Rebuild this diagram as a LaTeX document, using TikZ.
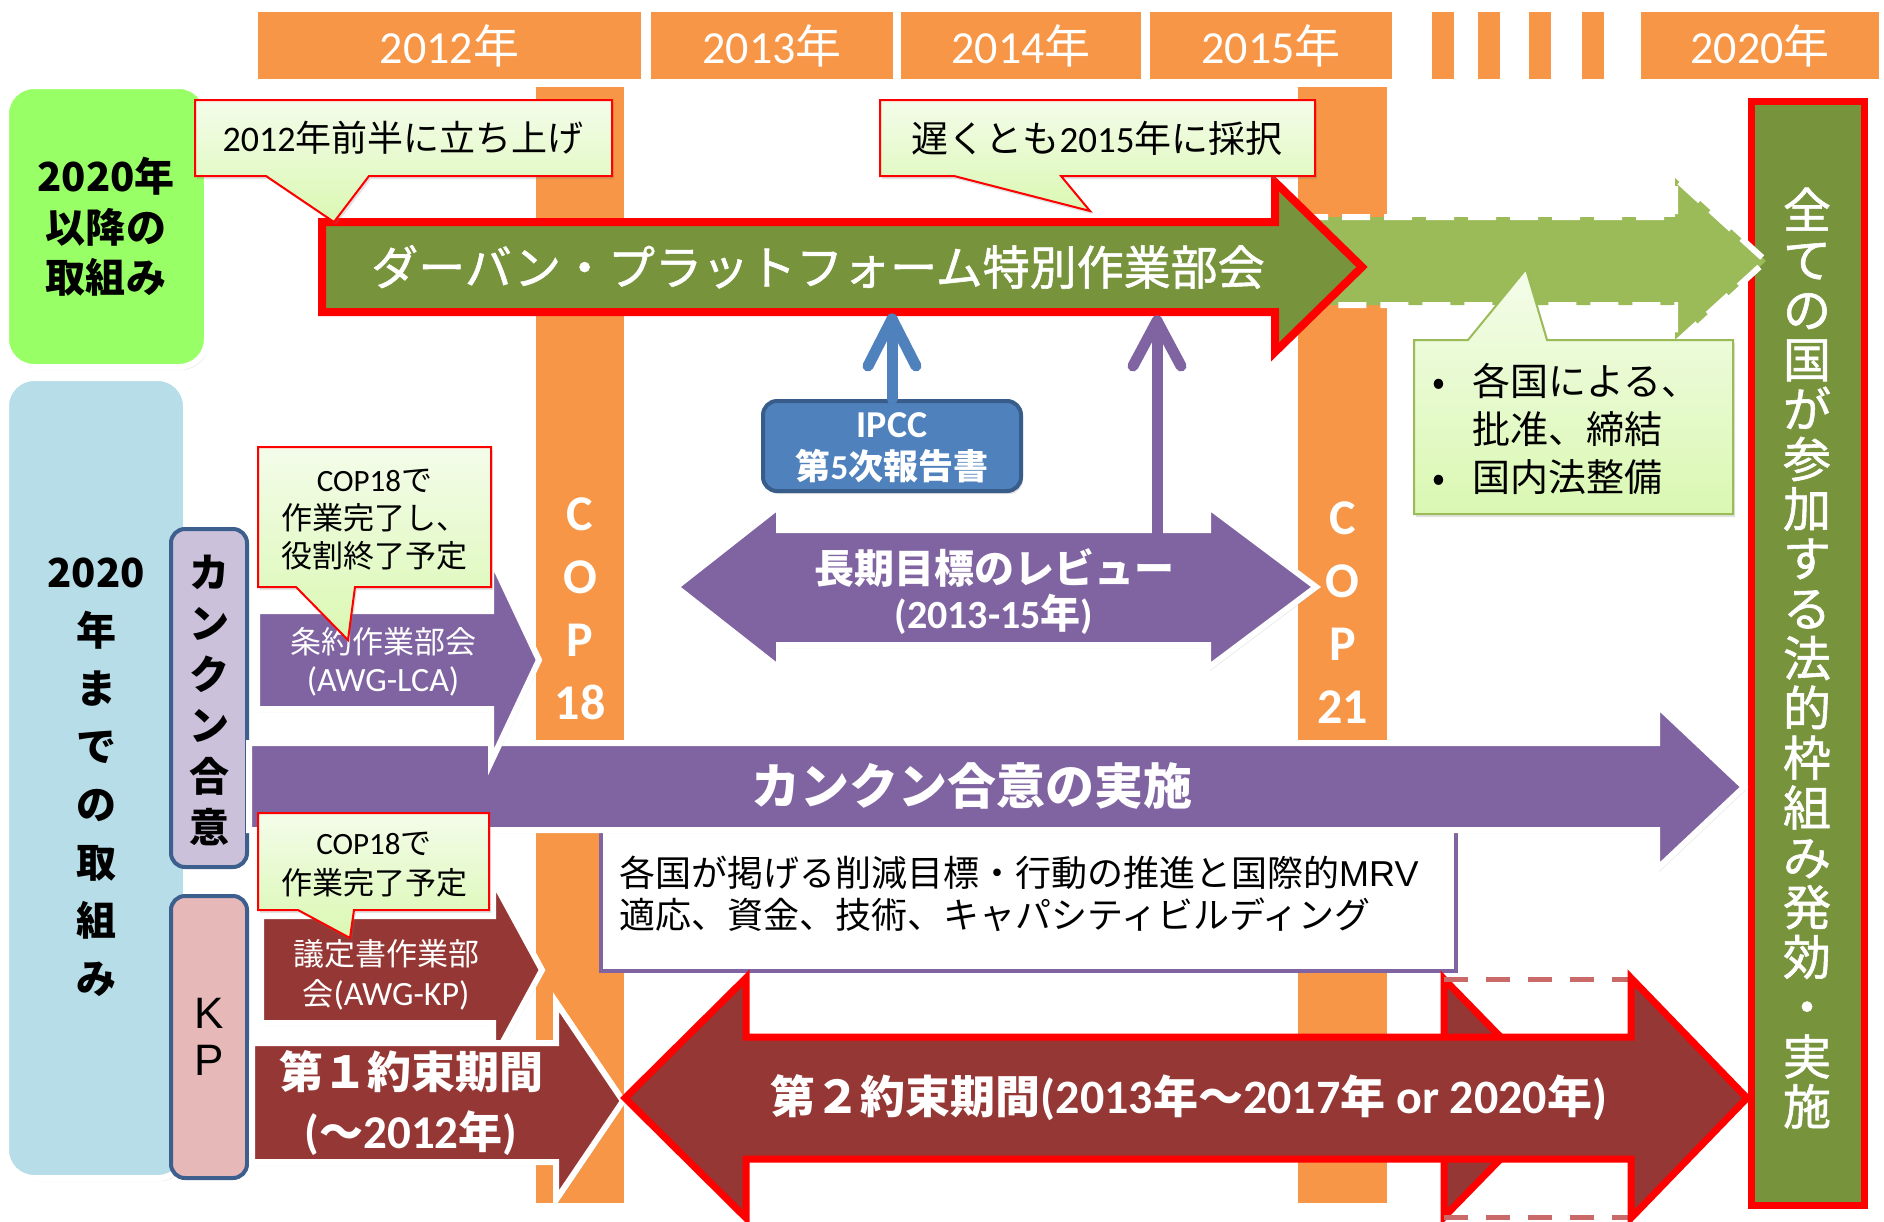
\documentclass[tikz,border=0pt]{standalone}
\usepackage{fontspec}
\setmainfont{Noto Sans CJK JP}
\newfontfamily\jpmed{Noto Sans CJK JP}[FakeBold=1.2]
\newfontfamily\carl{Carlito}
\newfontfamily\arl{Liberation Sans}
\usetikzlibrary{shadows}
\definecolor{org}{HTML}{F79646}
\definecolor{oliveg}{HTML}{77933C}
\definecolor{lgreen}{HTML}{9BBB59}
\definecolor{lime}{HTML}{99FF66}
\definecolor{lblue}{HTML}{B7DEE8}
\definecolor{lav}{HTML}{CCC1DA}
\definecolor{pinkb}{HTML}{E6B9B8}
\definecolor{dblue}{HTML}{3C5F8D}
\definecolor{purp}{HTML}{8064A2}
\definecolor{dred}{HTML}{953735}
\definecolor{ipccb}{HTML}{4F81BD}
\definecolor{ipccd}{HTML}{385D8A}
\definecolor{calltop}{HTML}{F4FCEA}
\definecolor{callbot}{HTML}{DAF8B2}
\definecolor{dashc}{HTML}{C0504D}
\newcommand\fsz[2]{\fontsize{#1pt}{#2pt}\selectfont}
\begin{document}
\begin{tikzpicture}[x=1pt,y=-1pt,
  shad/.style={drop shadow={shadow xshift=2pt,shadow yshift=-3pt,opacity=0.22}},
  hdr/.style={shad,fill=org,draw=white,line width=8pt,minimum height=75pt,inner sep=0pt,text=white,font=\fsz{46}{50}},
  copbar/.style={shad,fill=org,draw=white,line width=8pt,inner sep=0pt},
  coptxt/.style={text=white,font=\carl\bfseries\fsz{50}{63},align=center},
  wout/.style={shad,draw=white,line width=6pt},
  redout/.style={draw=red,line width=7pt},
  call/.style={shad,draw=red,line width=2pt,top color=calltop,bottom color=callbot},
  calltxt/.style={align=center,inner sep=0pt},
  sidebox/.style={draw=dblue,line width=4pt,rounded corners=14pt,minimum width=76pt,inner sep=0pt},
  wtxt/.style={text=white,align=center,inner sep=0pt},
  conn/.style={line width=11pt,line cap=round,line join=round}
]
\path[use as bounding box] (0,0) rectangle (1884,1221);
\fill[white] (0,0) rectangle (1884,1221);

% COP bars
\node[copbar,minimum width=96pt,minimum height=1141pt] (cop18) at (580,636) {};
\node[copbar,minimum width=97pt,minimum height=1141pt] (cop21) at (1342.5,636) {};
\node[coptxt] (cop18t) at (580,609) {C\\O\\P\\18};
\node[coptxt] (cop21t) at (1342.5,613) {C\\O\\P\\21};

% header year bars
\node[hdr,minimum width=391pt] (h12) at (449.5,45.5) {{\carl 2012}年};
\node[hdr,minimum width=250pt] (h13) at (772,45.5) {{\carl 2013}年};
\node[hdr,minimum width=248pt] (h14) at (1021,45.5) {{\carl 2014}年};
\node[hdr,minimum width=250pt] (h15) at (1271,45.5) {{\carl 2015}年};
\node[hdr,minimum width=30pt] (s1) at (1443,45.5) {};
\node[hdr,minimum width=30pt] (s2) at (1489,45.5) {};
\node[hdr,minimum width=30pt] (s3) at (1540,45.5) {};
\node[hdr,minimum width=30pt] (s4) at (1593,45.5) {};
\node[hdr,minimum width=246pt] (h20) at (1760,45.5) {{\carl 2020}年};

% left boxes
\node[shad,fill=lime,draw=white,line width=6pt,rounded corners=28pt,minimum width=201pt,minimum height=281pt] (gbox) at (106.5,226.5) {};
\node[align=center,inner sep=0pt,font=\bfseries\fsz{40}{50.5}] (gtext) at (106,227) {2020年\\以降の\\取組み};
\node[shad,fill=lblue,draw=white,line width=6pt,rounded corners=28pt,minimum width=180pt,minimum height=800pt] (bbox) at (96,778) {};
\node[align=center,inner sep=0pt,font=\bfseries\fsz{40}{58}] (btext) at (96,777) {2020\\年\\ま\\で\\の\\取\\組\\み};
\node[sidebox,fill=lav,minimum height=338pt] (cbox) at (209,698) {};
\node[align=center,inner sep=0pt,font=\bfseries\fsz{40}{51}] (ctext) at (209,700) {カ\\ン\\ク\\ン\\合\\意};
\node[sidebox,fill=pinkb,minimum height=282pt] (kbox) at (209,1037) {};
\node[align=center,inner sep=0pt,font=\arl\fsz{44}{47}] (ktext) at (209,1037) {K\\P};

% final vertical box
\node[fill=oliveg,draw=red,line width=7pt,minimum width=113pt,minimum height=1104pt,inner sep=0pt] (fbox) at (1807.5,653) {};
\node[wtxt,font=\jpmed\fsz{48}{49.8}] (ftext) at (1807,658) {全\\て\\の\\国\\が\\参\\加\\す\\る\\法\\的\\枠\\組\\み\\発\\効\\・\\実\\施};

% dashed light green arrow
\path[fill=lgreen,draw=white,line width=6pt,dash pattern=on 28pt off 14pt]
  (1300,217) -- (1675,217) -- (1675,178) -- (1766,261) -- (1675,344) -- (1675,305) -- (1300,305) -- cycle;

% Durban arrow
\path[shad,fill=oliveg,draw=red,line width=8pt]
  (322,222) -- (1275,222) -- (1275,182) -- (1362,267) -- (1275,352) -- (1275,312) -- (322,312) -- cycle;
\node[wtxt,font=\jpmed\fsz{47}{50}] (durban) at (818,267) {ダーバン・プラットフォーム特別作業部会};
\coordinate (dbBlue) at (892,319);
\coordinate (dbPurp) at (1157,321);

% callouts top
\path[call] (195,100) -- (612,100) -- (612,176) -- (369,176) -- (334,222) -- (266,176) -- (195,176) -- cycle;
\node[calltxt,font=\fsz{36}{40}] (c1) at (403,138) {{\carl 2012}年前半に立ち上げ};
\path[call] (880,100) -- (1315,100) -- (1315,176) -- (1061,176) -- (1090,211) -- (954,176) -- (880,176) -- cycle;
\node[calltxt,font=\fsz{37}{40}] (c2) at (1097,138) {遅くとも{\carl 2015}年に採択};

% IPCC box and connector
\node[shad,fill=ipccb,draw=ipccd,line width=4pt,rounded corners=14pt,minimum width=258pt,minimum height=90pt,inner sep=0pt] (ipcc) at (892,446) {};
\node[wtxt,font=\bfseries\fsz{35}{42}] (ipcct) at (892,448) {{\carl\fsz{38}{42}IPCC}\\第{\carl 5}次報告書};
\draw[conn,ipccb] (ipcc.north) -- (dbBlue);
\draw[conn,ipccb] (dbBlue) ++(-24,47) -- (dbBlue) -- ++(24,47);

% review double arrow
\path[wout,fill=purp]
  (676,587) -- (779,506) -- (779,530) -- (1208,530) -- (1208,506) -- (1316,587) -- (1208,668) -- (1208,645) -- (779,645) -- (779,668) -- cycle;
\node[wtxt,font=\bfseries\fsz{40}{44}] (rev1) at (994,568) {長期目標のレビュー};
\node[wtxt,font=\bfseries\fsz{40}{44}] (rev2) at (994,614) {{\carl (2013-15}年{\carl )}};
\coordinate (revTop) at (1157,537);
\draw[conn,purp] (revTop) -- (dbPurp);
\draw[conn,purp] (dbPurp) ++(-24,45) -- (dbPurp) -- ++(24,45);

% callout right
\path[call,draw=lgreen] (1414,340) -- (1468,340) -- (1526,269) -- (1547,340) -- (1733,340) -- (1733,514) -- (1414,514) -- cycle;
\node[anchor=west,align=left,inner sep=0pt,font=\fsz{38}{48}] (c3) at (1432,429)
  {\makebox[40pt][l]{•}各国による、\\\makebox[40pt][l]{}批准、締結\\\makebox[40pt][l]{•}国内法整備};

% white MRV box
\node[fill=white,draw=purp,line width=4pt,minimum width=855pt,minimum height=142pt,inner sep=0pt] (mrvbox) at (1028.5,900) {};
\node[anchor=west,align=left,inner sep=0pt,font=\fsz{36}{42}] (mrv) at (619,894)
  {各国が掲げる削減目標・行動の推進と国際的{\arl MRV}\\適応、資金、技術、キャパシティビルディング};

% Cancun implementation arrow
\path[wout,fill=purp]
  (249,743) -- (1657,743) -- (1657,705) -- (1744,787) -- (1657,869) -- (1657,830) -- (249,830) -- cycle;
\node[wtxt,font=\bfseries\fsz{49}{52}] (cancun) at (972,786) {カンクン合意の実施};

% AWG-LCA arrow
\path[wout,fill=purp]
  (257,611) -- (491,611) -- (491,558) -- (539,660) -- (491,762) -- (491,709) -- (257,709) -- cycle;
\node[wtxt,font=\fsz{31}{38}] (lca) at (383,662) {条約作業部会\\{\carl\fsz{34}{38}(AWG-LCA)}};
\path[call] (258,447) -- (491,447) -- (491,587) -- (355,587) -- (348,640) -- (296,587) -- (258,587) -- cycle;
\node[calltxt,font=\fsz{31}{38}] (c4) at (374.5,520) {{\carl COP18}で\\作業完了し、\\役割終了予定};

% AWG-KP arrow
\path[wout,fill=dred]
  (261,916) -- (493,916) -- (493,880) -- (542,970) -- (493,1060) -- (493,1023) -- (261,1023) -- cycle;
\node[wtxt,font=\fsz{31}{40}] (kp) at (386,975) {議定書作業部\\会{\carl\fsz{34}{40}(AWG-KP)}};
\path[call] (258,813) -- (489,813) -- (489,910) -- (354,910) -- (350,938) -- (298,910) -- (258,910) -- cycle;
\node[calltxt,font=\fsz{31}{40}] (c5) at (374,865) {{\carl COP18}で\\作業完了予定};

% first commitment period
\path[wout,fill=dred]
  (252,1043) -- (556,1043) -- (556,1002) -- (623,1101) -- (556,1200) -- (556,1162) -- (252,1162) -- cycle;
\node[wtxt,font=\bfseries\fsz{44}{60}] (cp1) at (411,1103) {第１約束期間\\{\carl\fsz{47}{60}(}～{\carl\fsz{47}{60}2012}年{\carl\fsz{47}{60})}};

% 2017 head and dashed extension
\path[fill=dred,draw=red,line width=7pt] (1444,979) -- (1560,1098) -- (1444,1217) -- cycle;
\draw[dashc!85,line width=5pt,dash pattern=on 24pt off 18pt] (1444,979) -- (1631,979);
\draw[dashc!85,line width=5pt,dash pattern=on 24pt off 18pt] (1444,1217) -- (1631,1217);

% second commitment period
\path[fill=dred,redout]
  (625,1098) -- (746,978) -- (746,1037) -- (1631,1037) -- (1631,978) -- (1747,1098) -- (1631,1218) -- (1631,1159) -- (746,1159) -- (746,1218) -- cycle;
\node[wtxt,font=\bfseries\fsz{45}{50}] (cp2) at (1189,1098) {第２約束期間{\carl\fsz{48}{50}(2013}年～{\carl\fsz{48}{50}2017}年{\carl\fsz{48}{50}\ or 2020}年{\carl\fsz{48}{50})}};
\end{tikzpicture}
\end{document}
